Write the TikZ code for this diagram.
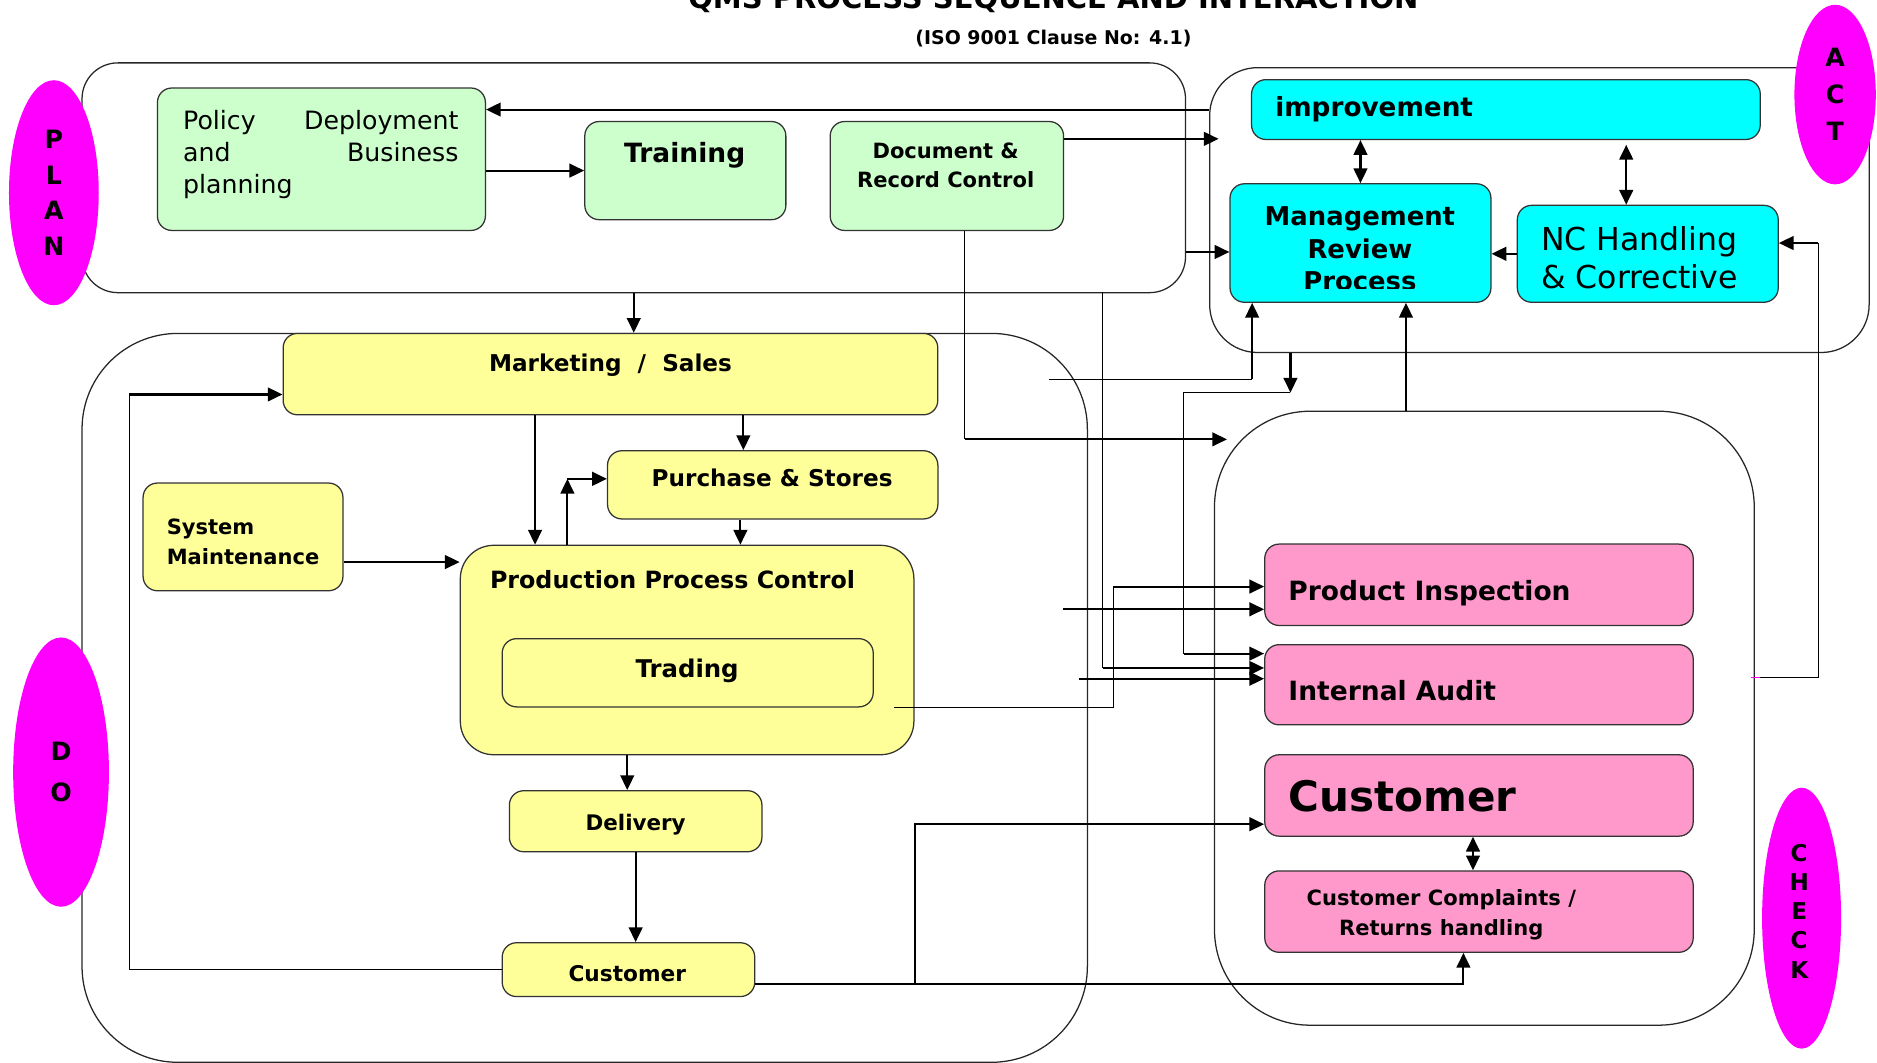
\documentclass[tikz,border=0pt]{standalone}
\usepackage{fontspec}
\setmainfont{DejaVu Sans}
\usetikzlibrary{shapes.geometric,arrows.meta,calc}
\definecolor{plangreen}{HTML}{CCFFCC}
\definecolor{actcyan}{HTML}{00FFFF}
\definecolor{doyellow}{HTML}{FFFF99}
\definecolor{checkpink}{HTML}{FF99CC}
\definecolor{ovalmag}{HTML}{FF00FF}
\newcommand\setfs[2]{\fontsize{#1}{#2}\selectfont}

\begin{document}
\begin{tikzpicture}[x=0.02cm,y=-0.02cm,
	box/.style={draw=black!80,line width=0.6pt,rounded corners=0.24cm,inner sep=0pt,anchor=north west},
	area/.style={draw=black!85,line width=0.6pt,inner sep=0pt,anchor=north west},
	oval/.style={ellipse,fill=ovalmag,inner sep=0pt,align=center},
	txt/.style={inner sep=0pt},
	one/.style={txt,text height=0.72em,text depth=0.2em},
	arr/.style={-{Triangle[length=7pt,width=6.5pt]},line width=1pt},
	dbl/.style={{Triangle[length=7pt,width=6.5pt]}-{Triangle[length=7pt,width=6.5pt]},line width=1pt},
	wire/.style={line width=0.5pt}]
	\useasboundingbox (0,0) rectangle (1568,888);
	% titles
	\node[txt,anchor=base,font=\bfseries\setfs{13.8}{16}] (title) at (880,7) {QMS PROCESS SEQUENCE AND INTERACTION};
	\node[txt,anchor=base,font=\bfseries\setfs{9}{11}] (subtitle) at (880,37) {(ISO 9001 Clause No: 4.1)};

	% the four areas
	\node[area,rounded corners=0.6cm,minimum width=18.44cm,minimum height=3.84cm] (planarea) at (68,52) {};
	\node[area,rounded corners=0.8cm,minimum width=11.02cm,minimum height=4.76cm] (actarea) at (1010,56) {};
	\node[area,rounded corners=1.6cm,minimum width=16.8cm,minimum height=12.18cm] (doarea) at (68,278) {};
	\node[area,rounded corners=1.6cm,minimum width=9.02cm,minimum height=10.26cm] (checkarea) at (1014,343) {};

	\node[oval,minimum width=1.5cm,minimum height=3.76cm,font=\bfseries\setfs{12}{17}] (planoval) at (45,161) {P\\L\\A\\N};
	\node[oval,minimum width=1.36cm,minimum height=3cm,font=\bfseries\setfs{12}{17.5}] (actoval) at (1533,79) {A\\C\\T};
	\node[oval,minimum width=1.6cm,minimum height=4.5cm,font=\bfseries\setfs{12}{19.3}] (dooval) at (51,645) {D\\O};
	\node[oval,minimum width=1.32cm,minimum height=4.36cm] (checkoval) at (1505,767) {};
	\node[txt,align=center,font=\bfseries\setfs{11}{13.9}] (checktxt) at (1503,761) {C\\H\\E\\C\\K};

	% PLAN
	\node[box,fill=plangreen,minimum width=5.48cm,minimum height=2.38cm] (policy) at (131,73) {};
	\node[txt,text width=4.6cm,align=left,font=\setfs{12}{15.3}] (policytxt) at (268,129) {Policy\hfill Deployment\\and\hfill Business\\planning};
	\node[box,fill=plangreen,minimum width=3.36cm,minimum height=1.64cm] (training) at (488,101) {};
	\node[one,font=\bfseries\setfs{12.6}{15}] (trainingtxt) at (572,131) {Training};
	\node[box,fill=plangreen,minimum width=3.9cm,minimum height=1.82cm] (docctrl) at (693,101) {};
	\node[txt,align=center,font=\bfseries\setfs{10}{13.6}] (docctrltxt) at (790,138) {Document \&\\Record Control};

	% ACT
	\node[box,fill=actcyan,minimum width=8.5cm,minimum height=1cm] (improve) at (1045,66) {};
	\node[one,anchor=west,font=\bfseries\setfs{12.5}{15}] (improvetxt) at (1065,93) {improvement};
	\node[box,fill=actcyan,minimum width=4.36cm,minimum height=1.98cm] (mrp) at (1027,153) {};
	\begin{scope}
		\clip (1027,153) rectangle (1245,241);
		\node[txt,align=center,font=\bfseries\setfs{12.3}{15.5}] (mrptxt) at (1136,208) {Management\\Review\\Process};
	\end{scope}
	\node[box,fill=actcyan,minimum width=4.36cm,minimum height=1.62cm] (nc) at (1267,171) {};
	\node[txt,anchor=west,align=left,font=\setfs{15}{18}] (nctxt) at (1287,215) {NC Handling\\\& Corrective};

	% DO
	\node[box,fill=doyellow,minimum width=10.94cm,minimum height=1.36cm] (market) at (236,278) {};
	\node[one,font=\bfseries\setfs{11}{13}] (markettxt) at (510,306) {Marketing\ \ /\ \ Sales};
	\node[box,fill=doyellow,minimum width=5.52cm,minimum height=1.14cm] (purchase) at (507,376) {};
	\node[one,font=\bfseries\setfs{11}{13}] (purchasetxt) at (645,402) {Purchase \& Stores};
	\node[box,fill=doyellow,minimum width=3.34cm,minimum height=1.8cm] (sysmaint) at (119,403) {};
	\node[txt,anchor=west,align=left,font=\bfseries\setfs{10}{14.2}] (sysmainttxt) at (139,453) {System\\Maintenance};
	\node[box,fill=doyellow,rounded corners=0.56cm,minimum width=7.58cm,minimum height=3.5cm] (ppc) at (384,455) {};
	\node[one,anchor=west,font=\bfseries\setfs{11.3}{13}] (ppctxt) at (409,487) {Production Process Control};
	\node[box,fill=doyellow,minimum width=6.2cm,minimum height=1.14cm] (trading) at (419,533) {};
	\node[one,font=\bfseries\setfs{11.6}{14}] (tradingtxt) at (574,561) {Trading};
	\node[box,fill=doyellow,minimum width=4.22cm,minimum height=1.02cm] (delivery) at (425,660) {};
	\node[one,font=\bfseries\setfs{10.2}{12}] (deliverytxt) at (531,689) {Delivery};
	\node[box,fill=doyellow,minimum width=4.22cm,minimum height=0.9cm] (cust) at (419,787) {};
	\node[one,font=\bfseries\setfs{10.3}{12}] (custtxt) at (524,815) {Customer};

	% CHECK
	\node[box,fill=checkpink,minimum width=7.16cm,minimum height=1.36cm] (prodinsp) at (1056,454) {};
	\node[one,anchor=west,font=\bfseries\setfs{12.6}{15}] (prodinsptxt) at (1076,497) {Product Inspection};
	\node[box,fill=checkpink,minimum width=7.16cm,minimum height=1.34cm] (audit) at (1056,538) {};
	\node[one,anchor=west,font=\bfseries\setfs{12.6}{15}] (audittxt) at (1076,581) {Internal Audit};
	\node[box,fill=checkpink,minimum width=7.16cm,minimum height=1.36cm] (custc) at (1056,630) {};
	\node[one,anchor=west,font=\bfseries\setfs{20}{24}] (custctxt) at (1076,673) {Customer};
	\node[box,fill=checkpink,minimum width=7.16cm,minimum height=1.36cm] (complaints) at (1056,727) {};
	\node[txt,align=center,font=\bfseries\setfs{10}{14.2}] (complaintstxt) at (1204,764) {Customer Complaints /\\Returns handling};

	% free ends and bends
	\coordinate (m1) at (876,317);
	\coordinate (c13) at (1078,328);
	\coordinate (c13b) at (989,328);
	\coordinate (ncret) at (1519,566);
	\coordinate (f26) at (888,509);
	\coordinate (k27) at (930,490);
	\coordinate (f28) at (901,567);
	\coordinate (f29) at (921,244);
	\coordinate (k8) at ($(nc.east)+(0,-9)$);
	\coordinate (k10) at ($(docctrl.south)+(15,174)$);
	\coordinate (k12) at ($(mrp.south west)+(19,0)$);
	\coordinate (k14) at ($(mrp.south)+(38,0)$);
	\coordinate (k22) at ($(market.west)+(0,17)$);
	\coordinate (k29) at ($(audit.west)+(0,-14)$);
	\coordinate (k30) at ($(audit.west)+(0,-26)$);

	% PLAN and ACT connectors
	\draw[arr] (actarea.west |- improve.west) -- (policy.east |- improve.west);
	\draw[arr] (policy.east |- training.west) -- (training.west);
	\draw[arr] ($(docctrl.north east)+(0,15)$) coordinate (d3) -- ($(actarea.west |- d3)+(8,0)$);
	\draw[arr] ($(planarea.east)+(0,62)$) coordinate (d4) -- (mrp.west |- d4);
	\draw[dbl] (mrp.north |- improve.south) -- (mrp.north);
	\draw[dbl] ($(nc.north)+(-18,-50)$) -- ($(nc.north)+(-18,0)$);
	\draw[arr] (nc.west) -- (mrp.east |- nc.west);
	\draw[wire] (checkarea.east |- ncret) -- (ncret) -- (ncret |- k8);
	\draw[arr] (ncret |- k8) -- (k8);
	\draw[ovalmag,line width=0.8pt] ($(checkarea.east |- ncret)+(-3,0)$) -- ++(7,0);
	\draw[arr] (planarea.south) -- (planarea.south |- market.north);
	\draw[wire] ($(docctrl.south)+(15,0)$) -- (k10);
	\draw[arr] (k10) -- ($(checkarea.west |- k10)+(11,0)$);
	\draw[wire] (m1) -- (m1 -| k12);
	\draw[arr] (m1 -| k12) -- (k12);
	\draw[arr] (actarea.south -| c13) -- (c13);
	\draw[wire] (c13) -- (c13b) -- (c13b |- k30);
	\draw[arr] (c13b |- k30) -- (k30);
	\draw[arr] (checkarea.north -| k14) -- (k14);

	% DO connectors
	\draw[arr] ($(market.south)+(-63,0)$) coordinate (t15) -- (t15 |- ppc.north);
	\draw[arr] ($(market.south)+(111,0)$) coordinate (t16) -- (t16 |- purchase.north);
	\draw[arr] ($(ppc.north)+(-100,0)$) coordinate (t17) -- ($(t17 |- purchase.west)+(0,-5)$);
	\draw[arr] ($(t17 |- purchase.west)+(0,-5)$) -- ($(purchase.west)+(0,-5)$);
	\draw[arr] ($(purchase.south)+(-27,0)$) coordinate (t18) -- (t18 |- ppc.north);
	\draw[arr] ($(sysmaint.east)+(0,21)$) coordinate (t19) -- (t19 -| ppc.west);
	\draw[arr] ($(ppc.south)+(-50,0)$) coordinate (t20) -- (t20 |- delivery.north);
	\draw[arr] (delivery.south) -- (delivery.south |- cust.north);
	\draw[wire] (cust.west) -- ++(-311,0) coordinate (t22) -- (t22 |- k22);
	\draw[arr] (t22 |- k22) -- (k22);
	\draw[arr] ($(cust.east)+(0,12)$) -| ($(complaints.south)+(-13,0)$);
	\draw[arr] ($(cust.east)+(133,12)$) |- ($(custc.west)+(0,24)$);

	% CHECK connectors
	\draw[dbl] ($(custc.south)+(-5,0)$) -- ($(complaints.north)+(-5,0)$);
	\draw[arr] (f26) -- (f26 -| prodinsp.west);
	\draw[wire] ($(trading.south east)+(17,0)$) -| (k27);
	\draw[arr] (k27) -- (k27 -| prodinsp.west);
	\draw[arr] (f28) -- (f28 -| audit.west);
	\draw[wire] (f29) -- (f29 |- k29);
	\draw[arr] (f29 |- k29) -- (k29);
\end{tikzpicture}
\end{document}
